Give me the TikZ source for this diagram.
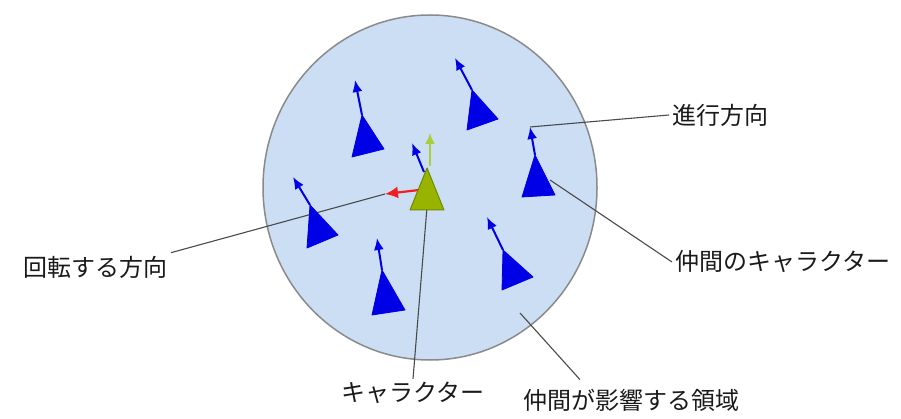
\documentclass[tikz,border=0pt]{standalone}
\usepackage{fontspec}
\setmainfont{Noto Sans CJK JP}
\usetikzlibrary{arrows.meta,calc}
\definecolor{areablue}{HTML}{CCDEF4}
\definecolor{areaedge}{HTML}{8A8A8A}
\definecolor{mateblue}{HTML}{0000E6}
\definecolor{charolive}{HTML}{99B400}
\definecolor{charedge}{HTML}{6E8A00}
\definecolor{turnred}{HTML}{F02020}
\definecolor{headgreen}{HTML}{A6CF3A}
\definecolor{leadgray}{HTML}{4A4A4A}
\definecolor{labelink}{HTML}{1A1A1A}

\tikzset{
  mate/.style={fill=mateblue, draw=mateblue, line width=0.8pt, line join=round},
  heading/.style={mateblue, line width=2pt, -{Latex[length=12pt,width=10pt]}},
  leader/.style={leadgray, line width=1.1pt},
  tag/.style={font=\fontsize{24}{28}\selectfont, labelink, inner sep=3pt},
}

\begin{document}
\begin{tikzpicture}[x=1pt,y=-1pt]
  \useasboundingbox (0,0) rectangle (901,419);
  % area where the mates have influence
  \draw[areaedge, fill=areablue, line width=1.5pt]
    (430,187.5) ellipse [x radius=167, y radius=172.5];

  % points the leaders run to
  \coordinate (m3tip) at (530,127);
  \coordinate (m3side) at (550,180);
  \coordinate (redtip) at (385,194);
  \coordinate (cbase) at (427,207);
  \coordinate (m7foot) at (520,313);

  % labels
  \node[tag, anchor=west] (adv) at (669,115) {進行方向};
  \node[tag, anchor=west] (mates) at (672,262) {仲間のキャラクター};
  \node[tag, anchor=east] (rot) at (171,267) {回転する方向};
  \node[tag] (chr) at (413,393) {キャラクター};
  \node[tag, anchor=west] (area) at (520,400) {仲間が影響する領域};

  % leaders
  \draw[leader] (m3tip) -- (adv.west);
  \draw[leader] (m3side) -- (mates.west);
  \draw[leader] (rot.north east) -- (redtip);
  \draw[leader] (cbase) -- (chr.north);
  \draw[leader] (m7foot) -- ($(area.north west)+(60,-6)$);

  % mates
  \fill[mate] (362,115) -- (352,157) -- (384,149) -- cycle;
  \draw[heading] (362,115) -- (355,80);
  \fill[mate] (472,90) -- (467,130) -- (498,119) -- cycle;
  \draw[heading] (472,90) -- (455,58);
  \fill[mate] (535,155) -- (522,197) -- (555,195) -- cycle;
  \draw[heading] (535,155) -- (m3tip);
  \fill[mate] (310,205) -- (307,248) -- (338,235) -- cycle;
  \draw[heading] (310,205) -- (293,177);
  \fill[mate] (382,270) -- (372,315) -- (405,310) -- cycle;
  \draw[heading] (382,270) -- (377,238);
  \fill[mate] (503,250) -- (502,290) -- (533,277) -- cycle;
  \draw[heading] (503,250) -- (487,217);

  % the character
  \draw[heading] (424,172) -- (412,143);
  \draw[headgreen, line width=2pt, -{Latex[length=11pt,width=10pt]}]
    (430,166) -- (430,133);
  \draw[turnred, line width=2.2pt, -{Latex[length=13pt,width=12pt]}]
    (419,190) -- (redtip);
  \draw[charedge, fill=charolive, line width=1pt, line join=round]
    (427,168) -- (410,210) -- (444,210) -- cycle;
\end{tikzpicture}
\end{document}
